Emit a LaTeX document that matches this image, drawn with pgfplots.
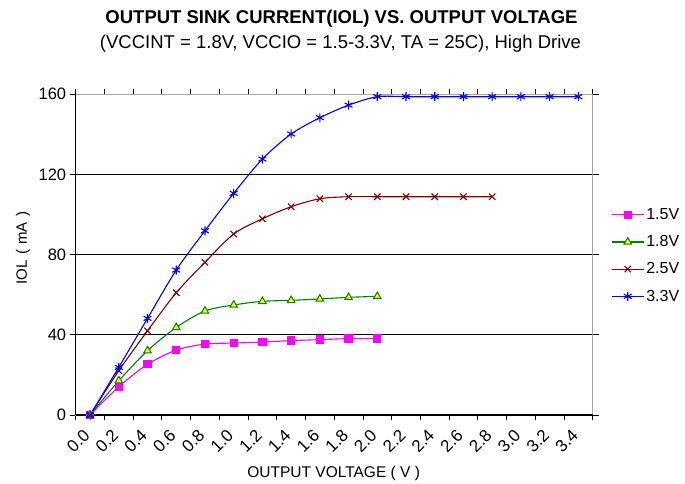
\documentclass[border=0pt]{standalone}
\usepackage{fontspec}
\setmainfont{Liberation Sans}
\usepackage{pgfplots}
\pgfplotsset{compat=1.18}
\definecolor{dred}{RGB}{128,0,0}
\definecolor{dgreen}{RGB}{0,128,0}
\definecolor{mag}{RGB}{255,0,255}
\definecolor{blu}{RGB}{0,0,255}
\definecolor{yel}{RGB}{255,255,0}
\begin{document}
\begin{tikzpicture}[x=1pt,y=1pt]
\path[use as bounding box] (0,0) rectangle (685,483);
\node[font=\fontsize{18.5}{20}\selectfont\bfseries] at (341.5,464.7) {OUTPUT SINK CURRENT(IOL) VS. OUTPUT VOLTAGE};
\node[font=\fontsize{18.5}{20}\selectfont] at (340.5,439.5) {(VCCINT = 1.8V, VCCIO = 1.5-3.3V, TA = 25C), High Drive};
\begin{axis}[
  at={(75.7pt,68pt)}, anchor=south west,
  scale only axis, width=517pt, height=320.7pt,
  xmin=-0.5, xmax=17.5, ymin=0, ymax=160,
  ytick={0,40,80,120,160},
  ymajorgrids, grid style={black, line width=0.8pt},
  xtick={0,...,17},
  xticklabels={0.0,0.2,0.4,0.6,0.8,1.0,1.2,1.4,1.6,1.8,2.0,2.2,2.4,2.6,2.8,3.0,3.2,3.4},
  minor xtick={-0.5,0.5,...,17.5},
  major x tick style={draw=none},
  minor x tick style={black, line width=0.8pt},
  major y tick style={black, line width=0.8pt},
  tick align=outside,
  major tick length=6pt, minor tick length=5pt,
  axis line style={draw=gray!70, line width=1pt},
  xticklabel style={yshift=-9pt, xshift=-1pt, rotate=45, anchor=east, font=\fontsize{17}{17}\selectfont},
  yticklabel style={font=\fontsize{16.5}{16.5}\selectfont},
  /pgf/number format/assume math mode=true,
  xlabel={OUTPUT VOLTAGE ( V )},
  xlabel style={font=\fontsize{15.5}{16}\selectfont, at={(axis description cs:0.499,-0.182)}, anchor=center},
  ylabel={IOL\hspace{6pt}(\hspace{5pt}mA\hspace{6pt})},
  ylabel style={font=\fontsize{15}{15}\selectfont, at={(axis description cs:-0.102,0.521)}, anchor=center, rotate=0},
  legend style={draw=none, fill=none, inner sep=0pt, at={(axis description cs:1.0354,0.497)}, anchor=west,
    font=\fontsize{16}{16}\selectfont, row sep=10.5pt, cells={anchor=west}},
  legend image code/.code={\draw[#1] (0pt,0pt) -- (32pt,0pt); \draw[#1, only marks] plot coordinates {(16pt,0pt)};},
  clip=false,
]
\addplot[mag, line width=1.1pt, smooth, tension=0.5, mark=square*, mark size=3.6pt, mark options={solid, fill=mag, draw=mag}]
 coordinates {(0,0)(1,14.1)(2,25.3)(3,32.4)(4,35.4)(5,35.9)(6,36.4)(7,37.1)(8,37.6)(9,38.1)(10,38.1)};
\addlegendentry{1.5V}
\addplot[dgreen, line width=1.1pt, smooth, tension=0.5, mark=triangle*, mark size=4.3pt, mark options={solid, fill=yel, draw=dgreen, line width=1pt}]
 coordinates {(0,0)(1,17.1)(2,32.1)(3,43.7)(4,51.9)(5,54.9)(6,56.7)(7,57.2)(8,57.9)(9,58.7)(10,59.2)};
\addlegendentry{1.8V}
\addplot[dred, line width=1.1pt, smooth, tension=0.5, mark=x, mark size=4.5pt, mark options={solid, line width=1.1pt}]
 coordinates {(0,0)(1,22.1)(2,42.0)(3,61.0)(4,76.2)(5,90.3)(6,97.9)(7,103.9)(8,107.9)(9,108.9)(10,108.9)(11,108.9)(12,108.9)(13,108.9)(14,108.9)};
\addlegendentry{2.5V}
\addplot[blu, line width=1.1pt, smooth, tension=0.5, mark=asterisk, mark size=4.5pt, mark options={solid, line width=1.1pt}]
 coordinates {(0,0)(1,23.8)(2,48.2)(3,72.3)(4,91.9)(5,110.6)(6,127.7)(7,140.2)(8,148.3)(9,154.6)(10,158.8)(11,158.8)(12,158.8)(13,158.8)(14,158.8)(15,158.8)(16,158.8)(17,158.8)};
\addlegendentry{3.3V}
\draw[black, line width=1pt] (rel axis cs:0,0) -- (rel axis cs:0,1);
\draw[black, line width=1.8pt] (rel axis cs:0,0) -- (rel axis cs:1,0);
\end{axis}
\end{tikzpicture}
\end{document}
